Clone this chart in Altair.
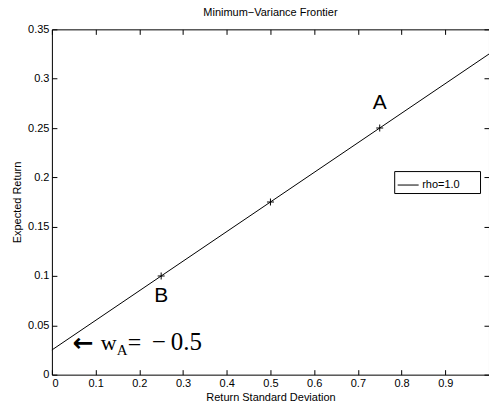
import altair as alt
import pandas as pd

# Frontier (rho = 1.0): return standard deviation vs expected return
sigma = [0.0, 0.25, 0.5, 0.75, 1.0]
exp_ret = [0.025, 0.1, 0.175, 0.25, 0.325]
series_name = "rho=1.0"

# Marked portfolios
marker_sigma = [0.25, 0.5, 0.75]
marker_ret = [0.1, 0.175, 0.25]
marker_label = ["B", "", "A"]

x_ticks = [0, 0.1, 0.2, 0.3, 0.4, 0.5, 0.6, 0.7, 0.8, 0.9]
y_ticks = [0, 0.05, 0.1, 0.15, 0.2, 0.25, 0.3, 0.35]

FONT = "Liberation Sans"
SERIF = "Liberation Serif"

line_df = pd.DataFrame({"sigma": sigma, "ret": exp_ret, "series": [series_name] * len(sigma)})
mark_df = pd.DataFrame({"sigma": marker_sigma, "ret": marker_ret, "label": marker_label})
anchor_df = pd.DataFrame({"sigma": [sigma[0]], "ret": [exp_ret[0]]})

xs = alt.Scale(domain=[0, 1], nice=False, zero=False)
ys = alt.Scale(domain=[0, 0.35], nice=False, zero=False)

common_axis = dict(domain=False, grid=False, tickSize=5, tickColor="black", tickWidth=1,
                   labelFont=FONT, labelFontSize=11, labelColor="black", labelPadding=3,
                   titleFont=FONT, titleFontSize=11, titleFontWeight="normal",
                   titleColor="black")

line = alt.Chart(line_df).mark_line(color="black", strokeWidth=1).encode(
    x=alt.X("sigma:Q", scale=xs, axis=alt.Axis(
        orient="bottom", values=x_ticks, offset=-5, format="~g",
        title="Return Standard Deviation", titlePadding=3, **common_axis)),
    y=alt.Y("ret:Q", scale=ys, axis=alt.Axis(
        orient="left", values=y_ticks, offset=-5, format="~g",
        title="Expected Return", titlePadding=5, **common_axis)),
    color=alt.Color("series:N", scale=alt.Scale(range=["black"]), legend=alt.Legend(
        title="xxx", titleOrient="right", titlePadding=0, titleColor="white",
        titleFontSize=11, titleFont=FONT, titleFontWeight="normal",
        orient="none", legendX=343, legendY=142,
        strokeColor="black", fillColor="white", padding=3, cornerRadius=0,
        symbolType="stroke", symbolSize=441, symbolStrokeWidth=1,
        symbolStrokeColor="black", labelFontSize=11, labelFont=FONT, labelColor="black",
        labelOffset=3)),
)

markers = alt.Chart(mark_df).mark_point(
    shape="M-1,0L1,0M0,-1L0,1", filled=False, stroke="black", strokeWidth=1, size=49, opacity=1
).encode(
    x=alt.X("sigma:Q", scale=xs, axis=alt.Axis(
        orient="top", values=x_ticks, offset=-5, labels=False, title=None, **common_axis)),
    y=alt.Y("ret:Q", scale=ys, axis=alt.Axis(
        orient="right", values=y_ticks, offset=-5, labels=False, title=None, **common_axis)),
)


def txt(df, text, dx, dy, size, font, align="center", baseline="middle", filt=None,
        weight="normal"):
    c = alt.Chart(df)
    if filt is not None:
        c = c.transform_filter(filt)
    props = dict(dx=dx, dy=dy, fontSize=size, font=font, align=align,
                 baseline=baseline, color="black", fontWeight=weight)
    enc = dict(
        x=alt.X("sigma:Q", scale=xs, axis=None),
        y=alt.Y("ret:Q", scale=ys, axis=None),
    )
    if text is None:
        enc["text"] = alt.Text("label:N")
        m = c.mark_text(**props)
    else:
        m = c.mark_text(text=text, **props)
    return m.encode(**enc)


lab_a = txt(mark_df, None, 0, -25, 21, FONT, filt="datum.label == 'A'")
lab_b = txt(mark_df, None, 0, 20, 21, FONT, filt="datum.label == 'B'")

arrow = txt(anchor_df, "←", 21, -7, 25, "DejaVu Sans", align="left", weight="bold")
w_txt = txt(anchor_df, "w", 49, 0, 22, SERIF, align="left", baseline="alphabetic")
w_sub = txt(anchor_df, "A", 65, 5, 15, SERIF, align="left", baseline="alphabetic")
eq_txt = txt(anchor_df, "=", 76, 0, 24, SERIF, align="left", baseline="alphabetic")
val_txt = txt(anchor_df, "−\u20090.5", 100, 0, 25, SERIF, align="left", baseline="alphabetic")

chart = alt.layer(
    line, markers, lab_a, lab_b, arrow, w_txt, w_sub, eq_txt, val_txt
).resolve_axis(
    x="independent", y="independent"
).properties(
    width=438, height=346,
    autosize=alt.AutoSizeParams(type="none"),
    padding={"left": 52, "top": 29, "right": 0, "bottom": 31},
    background="white",
    title=alt.TitleParams("Minimum−Variance Frontier", fontSize=11, fontWeight="normal",
                          font=FONT, color="black", offset=5, anchor="middle"),
).configure_view(
    stroke="black", strokeWidth=1
)

chart.save("out.html", embed_options={"renderer": "svg", "actions": False})
